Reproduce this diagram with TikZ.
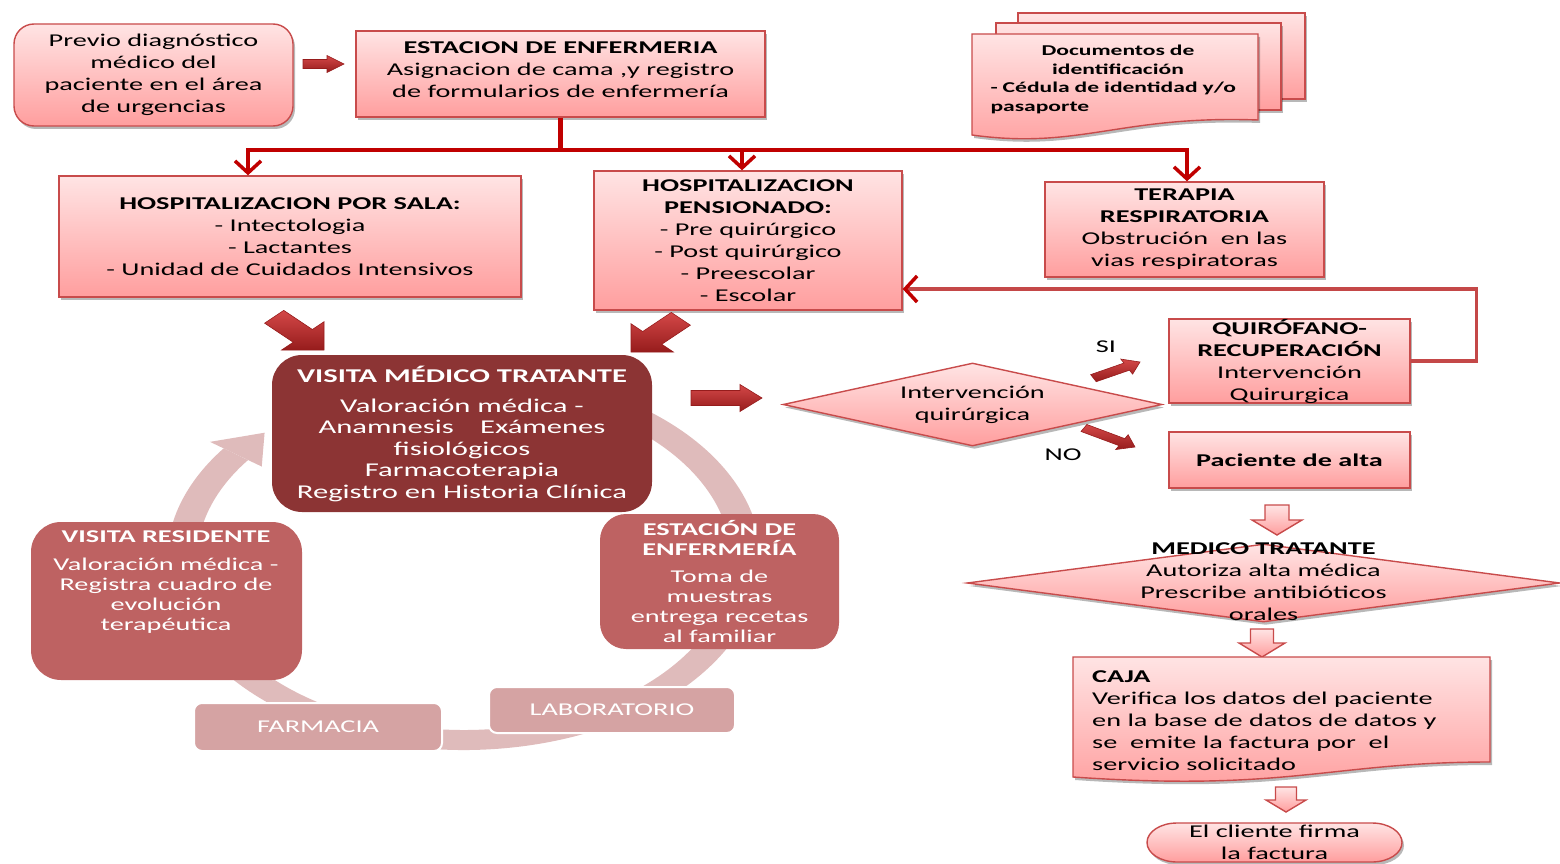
\documentclass[tikz,border=0pt]{standalone}
\usepackage{fontspec}
\setmainfont{Carlito}[FakeStretch=1.57]
\usetikzlibrary{arrows.meta,shapes.geometric,shadows,calc}

\definecolor{pinktop}{RGB}{255,228,228}
\definecolor{pinkbot}{RGB}{255,158,158}
\definecolor{boxline}{RGB}{200,75,75}
\definecolor{busred}{RGB}{192,0,0}
\definecolor{loopred}{RGB}{196,72,72}
\definecolor{darkbox}{RGB}{140,52,52}
\definecolor{midbox}{RGB}{190,98,98}
\definecolor{lightbox}{RGB}{213,163,163}
\definecolor{ringpink}{RGB}{223,187,187}
\definecolor{arrtop}{RGB}{212,72,72}
\definecolor{arrbot}{RGB}{150,28,28}

\newcommand{\fsnorm}{\fontsize{18}{22}\selectfont}
\newcommand{\fsbig}{\fontsize{19.5}{21.5}\selectfont}
\newcommand{\fscyc}{\fontsize{18}{20}\selectfont}
\newcommand{\fsdoc}{\fontsize{15}{18.5}\selectfont}

% block arrow: style, tip, rotation, length, shaft half width,
% head length, head half width, horizontal stretch
\newcommand{\blockarrow}[8]{%
  \begin{scope}[shift={#2}, xscale=#8, rotate=#3]
    \path[#1] (0,0) -- (-#6,#7) -- (-#6,#5) -- (-#4,#5) -- (-#4,-#5)
      -- (-#6,-#5) -- (-#6,-#7) -- cycle;
  \end{scope}}

\begin{document}
\begin{tikzpicture}[x=1pt,y=-1pt,
  pinkbox/.style={draw=boxline, line width=1.4pt, top color=pinktop, bottom color=pinkbot,
    drop shadow={shadow xshift=2pt, shadow yshift=-3pt, opacity=0.28, fill=black}},
  boxtxt/.style={align=center, font=\fsnorm, inner sep=0pt},
  bus/.style={draw=busred, line width=3.5pt},
  barb/.style={-{Straight Barb[length=12pt, width=26pt]}},
  redarrow/.style={top color=arrtop, bottom color=arrbot, draw=arrbot, line width=0.6pt},
  hollow/.style={draw=boxline, line width=1.4pt, top color=pinktop, bottom color=pinkbot},
  cycbox/.style={draw=none, align=center, text=white, inner sep=0pt}]

\useasboundingbox (0,0) rectangle (1560,864);

% ---------- cycle ring behind the cycle boxes ----------
\fill[ringpink] (464,560) ++(300:297 and 190)
  arc[start angle=300, end angle=576, x radius=297, y radius=190]
  -- ($(464,560)+(576:267 and 170)$)
  arc[start angle=576, end angle=300, x radius=267, y radius=170] -- cycle;
\fill[ringpink] ($(464,560)+(216:314 and 201)$) -- ($(464,560)+(225:282 and 180)$)
  -- ($(464,560)+(216:250 and 159)$) -- cycle;

% ---------- top row ----------
\node[pinkbox, rounded corners=20pt, minimum width=279pt, minimum height=102pt, boxtxt]
  (previo) at (153.5,75) {Previo diagnóstico\\médico del\\paciente en el área\\de urgencias};

\node[pinkbox, minimum width=409pt, minimum height=86pt, boxtxt, text depth=9pt]
  (est) at (560.5,74) {\textbf{ESTACION DE ENFERMERIA}\\Asignacion de cama ,y registro\\de formularios de enfermería};

\blockarrow{redarrow}{(344,64)}{0}{41}{4.5}{17}{8.5}{1}

% stacked identity documents
\path[pinkbox] (1018,13) rectangle (1305,99);
\path[pinkbox] (996,23) rectangle (1281,110);
\path[pinkbox] (972,34) -- (1258,34) -- (1258,120)
  .. controls (1120,115) and (1080,150) .. (972,135) -- cycle;
\node[font=\bfseries\fsdoc, text width=255pt, align=left, inner sep=0pt]
  (docs) at (1118,79.5)
  {\makebox[255pt]{Documentos de}\\\makebox[255pt]{identificación}\\- Cédula de identidad y/o\\pasaporte};

% ---------- second row ----------
\node[pinkbox, minimum width=462pt, minimum height=121pt, boxtxt]
  (hsala) at (290,236.5) {\textbf{HOSPITALIZACION POR SALA:}\\- Intectologia\\- Lactantes\\- Unidad de Cuidados Intensivos};

\node[pinkbox, minimum width=308pt, minimum height=139pt, boxtxt]
  (hpens) at (748,240.5) {\textbf{HOSPITALIZACION}\\\textbf{PENSIONADO:}\\- Pre quirúrgico\\- Post quirúrgico\\- Preescolar\\- Escolar};

\node[pinkbox, minimum width=279pt, minimum height=95pt, boxtxt]
  (terapia) at (1184.5,229.5) {\textbf{TERAPIA}\\\textbf{RESPIRATORIA}\\Obstrución\ \ en las\\vias respiratoras};

% ---------- connectors from the nursing station ----------
\coordinate (bus) at (est.south |- 0,150);
\draw[bus, line width=4.5pt] (est.south) -- (bus);
\draw[bus, barb] (bus) -| ([xshift=-42pt]hsala.north);
\draw[bus, barb] (bus) -| ([xshift=-6pt]hpens.north);
\draw[bus, barb] (bus) -| ([xshift=2.5pt]terapia.north);

% ---------- cycle boxes ----------
\node[cycbox, fill=darkbox, rounded corners=30pt, minimum width=380pt, minimum height=157pt, font=\fsbig]
  (visita) at (462,433.5) {\textbf{VISITA MÉDICO TRATANTE}\\[8.5pt]Valoración médica -\\Anamnesis\quad\ Exámenes\\fisiológicos\\Farmacoterapia\\Registro en Historia Clínica};

\node[cycbox, fill=midbox, rounded corners=30pt, minimum width=271pt, minimum height=158pt]
  (vres) at (166.5,601) {};
\node[cycbox, font=\fscyc] (vrest) at (166,582)
  {\textbf{VISITA RESIDENTE}\\[8pt]Valoración médica -\\Registra cuadro de\\evolución\\terapéutica};

\node[cycbox, fill=midbox, rounded corners=26pt, minimum width=239pt, minimum height=135pt, font=\fscyc]
  (est2) at (719.5,581.5) {\textbf{ESTACIÓN DE}\\\textbf{ENFERMERÍA}\\[7pt]Toma de\\muestras\\entrega recetas\\al familiar};

\node[cycbox, fill=lightbox, draw=white, line width=2pt, rounded corners=8pt, minimum width=246pt, minimum height=46pt, font=\fsnorm]
  (lab) at (612,710) {LABORATORIO};
\node[cycbox, fill=lightbox, draw=white, line width=2pt, rounded corners=8pt, minimum width=248pt, minimum height=48pt, font=\fsnorm]
  (farm) at (318,727) {FARMACIA};

% ---------- thick arrows into the attending visit ----------
\blockarrow{redarrow}{(324,350)}{-45}{47}{9}{20}{20}{1.5}
\blockarrow{redarrow}{(631,352)}{-135}{47}{9}{20}{20}{1.5}
\blockarrow{redarrow}{(762,398)}{0}{71}{7.5}{22}{13.5}{1}

% ---------- decision on surgery ----------
\node[diamond, pinkbox, minimum width=379pt, minimum height=83pt, inner sep=0pt]
  (dia1) at (972.5,404.5) {};
\node[boxtxt] (dia1t) at (dia1.center) {Intervención\\quirúrgica};

\node[pinkbox, minimum width=241pt, minimum height=84pt, boxtxt]
  (quir) at (1289.5,361) {\textbf{QUIRÓFANO-}\\\textbf{RECUPERACIÓN}\\Intervención\\Quirurgica};

\node[pinkbox, minimum width=241pt, minimum height=56pt, boxtxt]
  (alta) at (1289.5,460) {\textbf{Paciente de alta}};

\node[font=\fsnorm, inner sep=0pt] (si) at (1106,347) {SI};
\node[font=\fsnorm, inner sep=0pt] (no) at (1063,455) {NO};
\blockarrow{redarrow}{(1140,362)}{27.5}{35}{4}{10}{8.5}{1.5}
\blockarrow{redarrow}{(1135,447)}{-29.2}{39}{4}{10}{8.5}{1.5}

% return path from the operating room to the private ward
\draw[draw=loopred, line width=3.5pt, -{Straight Barb[length=12pt, width=26pt, color=busred]}]
  (quir.east) -- ++(66,0) |- ([yshift=-48.5pt]hpens.east);

% ---------- discharge sequence ----------
\blockarrow{hollow}{(1277,535)}{-90}{30}{12}{15}{25}{1}

\node[diamond, pinkbox, minimum width=593pt, minimum height=78pt, inner sep=0pt]
  (medico) at (1263.5,583) {};
\node[boxtxt] (medicot) at (1263.5,582)
  {\textbf{MEDICO TRATANTE}\\Autoriza alta médica\\Prescribe antibióticos\\orales};

\blockarrow{hollow}{(1262,657)}{-90}{28}{11.5}{14}{23}{1}

\path[pinkbox] (1073,657) -- (1490,657) -- (1490,762)
  .. controls (1330,762) and (1290,792) .. (1073,777) -- cycle;
\node[font=\fsnorm, align=left, inner sep=0pt, anchor=west] (caja) at (1092,721)
  {\textbf{CAJA}\\Verifica los datos del paciente\\en la base de datos de datos y\\se\ \ emite la factura por\ \ el\\servicio solicitado};

\blockarrow{hollow}{(1286,812)}{-90}{25}{10.5}{12}{20}{1}

\path[pinkbox] (1177,823) -- (1372,823)
  arc[start angle=-90, end angle=90, x radius=30, y radius=19.5]
  -- (1177,862) arc[start angle=90, end angle=270, x radius=30, y radius=19.5] -- cycle;
\node[boxtxt] (firma) at (1274.5,842) {El cliente firma\\la factura};

\end{tikzpicture}
\end{document}
